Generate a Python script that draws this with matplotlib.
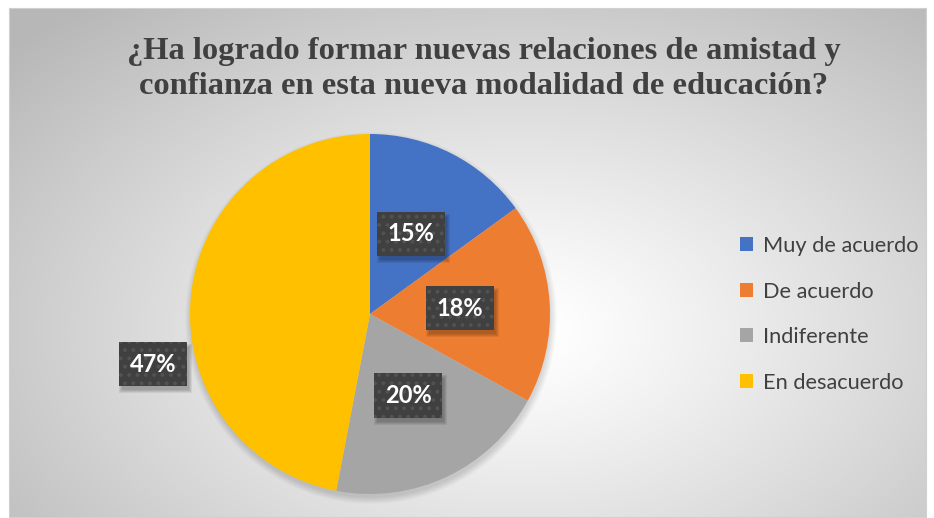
import numpy as np
import matplotlib
matplotlib.use("Agg")
import matplotlib.pyplot as plt
from matplotlib.patches import Circle, Rectangle

categories = ["Muy de acuerdo", "De acuerdo", "Indiferente", "En desacuerdo"]
values = [15, 18, 20, 47]
colors = ["#4472C4", "#ED7D31", "#A5A5A5", "#FFC000"]
title = "¿Ha logrado formar nuevas relaciones de amistad y\nconfianza en esta nueva modalidad de educación?"

plt.rcParams["hatch.linewidth"] = 1.6

W, H = 934, 518
fig = plt.figure(figsize=(W / 100, H / 100), dpi=100)
fig.patch.set_facecolor("white")
ax = fig.add_axes([0, 0, 1, 1])
ax.set_xlim(0, W)
ax.set_ylim(0, H)
ax.axis("off")

# background radial gradient in chart area
x0, x1, y0, y1 = 9, 926, 1, H - 8
xs = np.linspace(x0, x1, 400)
ys = np.linspace(y0, y1, 240)
X, Y = np.meshgrid(xs, ys)
cx, cy = 520, H - 330
R = np.sqrt(((X - cx) / 520) ** 2 + ((Y - cy) / 330) ** 2)
R = np.clip(R, 0, 1.3)
g = 1.0 - 0.22 * np.clip(R - 0.05, 0, None) ** 1.1
img = np.dstack([g, g, g])
ax.imshow(img, extent=(x0, x1, y0, y1), origin="lower", zorder=0, aspect="auto",
          interpolation="bilinear")
ax.add_patch(Rectangle((x0, y0), x1 - x0, y1 - y0, fill=False, edgecolor="#d0d0d0",
                       linewidth=0.8, zorder=0.5))

pcx, pcy, pr = 370, H - 314, 180
# soft shadow
for k in range(12):
    ax.add_patch(Circle((pcx + 1, pcy - 4), pr + 6 - k * 0.6, facecolor="black",
                        edgecolor="none", alpha=0.012, zorder=1))

wedges, texts, autotexts = ax.pie(
    values, colors=colors, startangle=90, counterclock=False,
    center=(pcx, pcy), radius=pr, autopct="%1.0f%%", pctdistance=0.5,
    wedgeprops=dict(linewidth=0), frame=True,
)
ax.set_xlim(0, W)
ax.set_ylim(0, H)
ax.set_aspect("auto")
ax.axis("off")
for w in wedges:
    w.set_zorder(2)

autotexts[3].set_position((153, H - 364))
for t in autotexts:
    t.set_fontsize(17)
    t.set_fontweight("bold")
    t.set_family("Lato")
    t.set_color("white")
    t.set_zorder(4)
    t.set_bbox(dict(boxstyle="square,pad=0.45", facecolor="#404040",
                    edgecolor="#525252", linewidth=0, hatch=".."))

fig.canvas.draw()
for t in autotexts:
    bb = t.get_bbox_patch().get_window_extent()
    for k in range(4):
        ax.add_patch(Rectangle((bb.x0 + 3 - k, bb.y0 - 4 - k), bb.width + 2 * k - 1,
                               bb.height + 2 * k - 1, transform=None,
                               facecolor="black", edgecolor="none", alpha=0.07, zorder=3))

fig.text(484 / W, 1 - 69 / H, title, ha="center", va="center", fontsize=23.4,
         fontweight="bold", family="Liberation Serif", color="#404040",
         linespacing=1.3)

handles = [Rectangle((0, 0), 1, 1, facecolor=c, edgecolor="none") for c in colors]
leg = ax.legend(handles, categories, loc="upper left", bbox_to_anchor=(740 / W, 1 - 236 / H),
                frameon=False, prop=dict(family="Lato", size=15.7), labelcolor="#404040",
                handlelength=0.6, handleheight=0.6, handletextpad=0.45,
                labelspacing=1.17, borderaxespad=0, borderpad=0)

fig.savefig("out.png", dpi=100)
